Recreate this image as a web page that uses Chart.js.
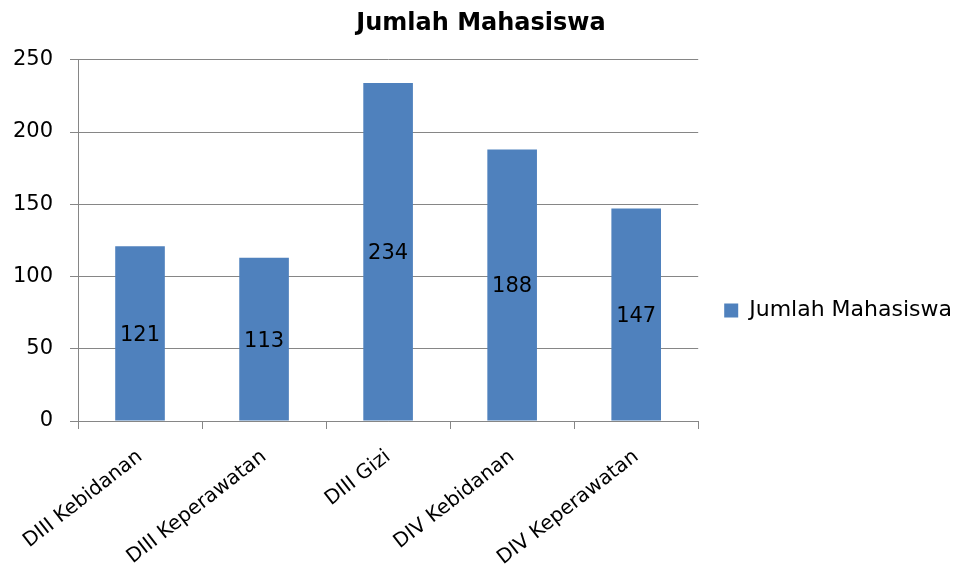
<!DOCTYPE html>
<html>
<head>
<meta charset="utf-8">
<script src="https://cdn.jsdelivr.net/npm/chart.js@4/dist/chart.umd.min.js"></script>
<style>
  html, body { margin: 0; padding: 0; background: #fff; }
  #wrap { width: 956px; height: 565px; }
</style>
</head>
<body>
<div id="wrap"><canvas id="chart" width="956" height="565"></canvas></div>
<script>
const categories = ['DIII Kebidanan', 'DIII Keperawatan', 'DIII Gizi', 'DIV Kebidanan', 'DIV Keperawatan']
const jumlahMahasiswa = [121, 113, 234, 188, 147]
const yTicks = [0, 50, 100, 150, 200, 250]

const FONT = "'DejaVu Sans', sans-serif"

// draws the value in the middle of each bar
const barLabels = {
  id: 'barLabels',
  afterDatasetsDraw(chart) {
    const ctx = chart.ctx
    ctx.save()
    ctx.font = '21px ' + FONT
    ctx.fillStyle = '#000'
    ctx.textAlign = 'center'
    ctx.textBaseline = 'middle'
    chart.getDatasetMeta(0).data.forEach((bar, i) => {
      const mid = (bar.y + bar.base) / 2
      ctx.fillText(jumlahMahasiswa[i], bar.x, mid + 2)
    })
    ctx.restore()
  }
}

new Chart(document.getElementById('chart'), {
  type: 'bar',
  data: {
    labels: categories,
    datasets: [{
      label: 'Jumlah Mahasiswa',
      data: jumlahMahasiswa,
      backgroundColor: '#4F81BD',
      borderWidth: 0,
      categoryPercentage: 1,
      barPercentage: 0.4
    }]
  },
  options: {
    responsive: false,
    animation: false,
    layout: { padding: { right: -6 } },
    plugins: {
      title: {
        display: true,
        text: 'Jumlah Mahasiswa',
        color: '#000',
        font: { family: FONT, size: 24, weight: 'bold' },
        padding: { top: 9, bottom: 22 }
      },
      legend: {
        position: 'right',
        maxWidth: 320,
        // empty title only pushes the entry down a little
        title: { display: true, text: ' ', font: { size: 40 }, padding: { top: 8, bottom: 0 } },
        labels: {
          color: '#000',
          font: { family: FONT, size: 22 },
          boxWidth: 14,
          boxHeight: 14,
          padding: 26
        }
      },
      tooltip: { enabled: false }
    },
    scales: {
      x: {
        grid: { drawOnChartArea: false, drawTicks: true, tickLength: 8, color: '#868686' },
        border: { color: '#868686' },
        ticks: {
          color: '#000',
          font: { family: FONT, size: 20 },
          minRotation: 38,
          maxRotation: 38,
          autoSkip: false,
          padding: 16
        },
        afterFit(scale) { scale.height = 144 }
      },
      y: {
        min: 0,
        max: 250,
        grid: { color: '#868686', tickLength: 8 },
        border: { color: '#868686' },
        afterBuildTicks(scale) { scale.ticks = yTicks.map(v => ({ value: v })) },
        ticks: {
          color: '#000',
          font: { family: FONT, size: 21 },
          padding: 17
        },
        afterFit(scale) { scale.width = 78 }
      }
    }
  },
  plugins: [barLabels]
})
</script>
</body>
</html>
